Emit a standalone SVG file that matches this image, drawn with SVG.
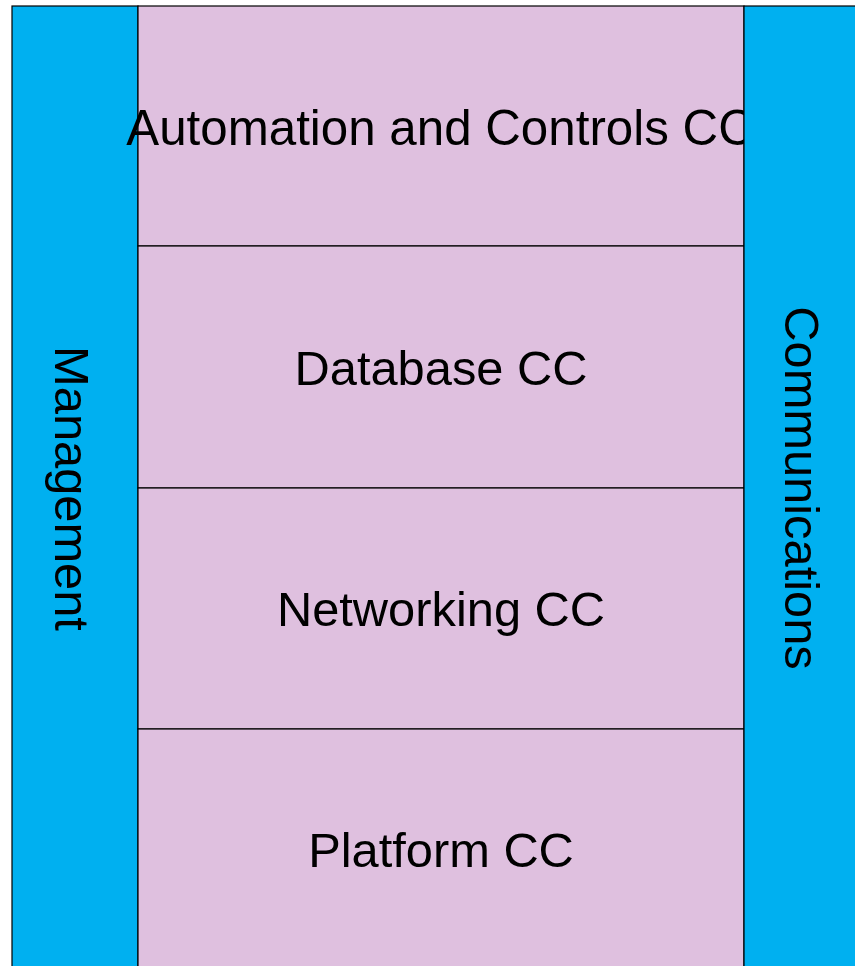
<svg xmlns="http://www.w3.org/2000/svg" width="855" height="966" viewBox="0 0 855 966">
<style>
.side{fill:#00B0F0;stroke:#000;stroke-width:1.2}
.cell{fill:#DFC0DF;stroke:#000;stroke-width:1.2}
.t{font-family:"Liberation Sans",Arial,sans-serif;font-size:48.8px;fill:#000;text-anchor:middle}
</style>
<rect x="0" y="0" width="855" height="966" fill="#fff"/>
<g id="management">
<rect class="side" x="12" y="6" width="126" height="980"/>
<text class="t" transform="translate(55,488.5) rotate(90)">Management</text>
</g>
<g id="automation">
<rect class="cell" x="138" y="6" width="606" height="240"/>
<text class="t" x="440" y="145" style="font-size:49.3px">Automation and Controls CC</text>
</g>
<g id="database">
<rect class="cell" x="138" y="246" width="606" height="242"/>
<text class="t" x="441" y="385">Database CC</text>
</g>
<g id="networking">
<rect class="cell" x="138" y="488" width="606" height="241"/>
<text class="t" x="441" y="625.5">Networking CC</text>
</g>
<g id="platform">
<rect class="cell" x="138" y="729" width="606" height="260"/>
<text class="t" x="441" y="867">Platform CC</text>
</g>
<g id="communications">
<rect class="side" x="744" y="6" width="130" height="980"/>
<text class="t" transform="translate(785,488) rotate(90)">Communications</text>
</g>
<g id="connectors"></g>
</svg>
